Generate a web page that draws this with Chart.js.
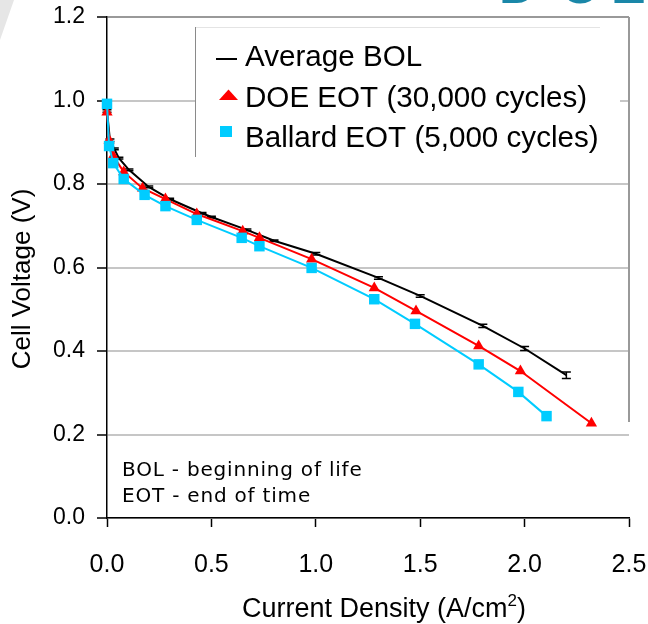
<!DOCTYPE html>
<html>
<head>
<meta charset="utf-8">
<script src="https://cdn.jsdelivr.net/npm/chart.js@4.4.1/dist/chart.umd.min.js"></script>
<style>
  html, body { margin: 0; padding: 0; background: #fff; }
  #wrap { width: 648px; height: 624px; }
</style>
</head>
<body>
<div id="wrap"><canvas id="cell-chart" width="648" height="624"></canvas></div>
<script>
// Average BOL (with error bars)
const bolX = [0, 0.014, 0.035, 0.057, 0.105, 0.2, 0.3, 0.455, 0.5, 0.67, 0.8, 1.0, 1.3, 1.5, 1.8, 2.0, 2.2];
const bolV = [0.975, 0.905, 0.884, 0.862, 0.834, 0.793, 0.764, 0.730, 0.721, 0.690, 0.664, 0.633, 0.575, 0.532, 0.460, 0.406, 0.342];
const bolErr = [0.003, 0.003, 0.002, 0.002, 0.002, 0.002, 0.002, 0.002, 0.002, 0.002, 0.002, 0.003, 0.003, 0.003, 0.004, 0.005, 0.008];

// DOE EOT (30,000 cycles)
const doeX = [0, 0.01, 0.03, 0.08, 0.17, 0.28, 0.43, 0.65, 0.73, 0.98, 1.28, 1.48, 1.78, 1.98, 2.32];
const doeV = [0.972, 0.905, 0.867, 0.829, 0.790, 0.764, 0.728, 0.687, 0.671, 0.620, 0.551, 0.496, 0.412, 0.352, 0.227];

// Ballard EOT (5,000 cycles)
const ballardX = [0, 0.01, 0.03, 0.08, 0.18, 0.28, 0.43, 0.645, 0.73, 0.98, 1.28, 1.475, 1.78, 1.97, 2.105];
const ballardV = [0.992, 0.891, 0.850, 0.812, 0.774, 0.747, 0.714, 0.671, 0.651, 0.599, 0.524, 0.465, 0.368, 0.302, 0.244];

const seriesLabels = ['Average BOL', 'DOE EOT (30,000 cycles)', 'Ballard EOT (5,000 cycles)'];
const noteLines = ['BOL - beginning of life', 'EOT - end of time'];
const xTitleParts = ['Current Density (A/cm', '2', ')'];
const yTitle = 'Cell Voltage (V)';

const ARIAL = "'Liberation Sans', Arial, sans-serif";

function toPoints(xs, ys) {
    return xs.map((x, i) => ({ x: x, y: ys[i] }));
}

// error bars for the BOL series, drawn right after that dataset
const errorBars = {
    id: 'errorBars',
    afterDatasetDraw(chart, args) {
        if (args.index !== 0) return;
        const ctx = chart.ctx;
        const y = chart.scales.y;
        ctx.save();
        ctx.strokeStyle = '#000';
        ctx.lineWidth = 1.5;
        args.meta.data.forEach((pt, i) => {
            const top = y.getPixelForValue(bolV[i] + bolErr[i]);
            const bot = y.getPixelForValue(bolV[i] - bolErr[i]);
            ctx.beginPath();
            ctx.moveTo(pt.x, top); ctx.lineTo(pt.x, bot);
            ctx.moveTo(pt.x - 4.5, top); ctx.lineTo(pt.x + 4.5, top);
            ctx.moveTo(pt.x - 4.5, bot); ctx.lineTo(pt.x + 4.5, bot);
            ctx.stroke();
        });
        ctx.restore();
    }
};

// axis titles sit a bit off the plot centre in the original
const axisTitles = {
    id: 'axisTitles',
    afterDraw(chart) {
        const ctx = chart.ctx;
        ctx.save();
        ctx.fillStyle = '#000';
        ctx.textBaseline = 'alphabetic';

        // x title with a raised 2
        const big = "27px " + ARIAL;
        const small = "17px " + ARIAL;
        ctx.font = big;
        const w0 = ctx.measureText(xTitleParts[0]).width;
        const w2 = ctx.measureText(xTitleParts[2]).width;
        ctx.font = small;
        const w1 = ctx.measureText(xTitleParts[1]).width;
        let x = 384 - (w0 + w1 + w2) / 2;
        const base = 617;
        ctx.textAlign = 'left';
        ctx.font = big;
        ctx.fillText(xTitleParts[0], x, base);
        x += w0;
        ctx.font = small;
        ctx.fillText(xTitleParts[1], x, base - 11);
        x += w1;
        ctx.font = big;
        ctx.fillText(xTitleParts[2], x, base);

        // y title
        ctx.translate(23, 279);
        ctx.rotate(-Math.PI / 2);
        ctx.font = "26px " + ARIAL;
        ctx.textAlign = 'center';
        ctx.textBaseline = 'middle';
        ctx.fillText(yTitle, 0, 0);
        ctx.restore();
    }
};

// slide leftovers, right plot border, inner legend box and the note
const decorations = {
    id: 'decorations',
    beforeDraw(chart) {
        const ctx = chart.ctx;
        ctx.save();
        ctx.fillStyle = '#e6e6e6';
        ctx.beginPath();
        ctx.moveTo(0, 0); ctx.lineTo(14, 0); ctx.lineTo(0, 40); ctx.closePath();
        ctx.fill();
        ctx.fillStyle = '#1a87a8';
        ctx.font = "bold 52px " + ARIAL;
        ctx.textBaseline = 'alphabetic';
        ctx.fillText('D', 499, 3);
        ctx.fillText('O', 560, 3);
        ctx.fillText('E', 611, 3);
        ctx.restore();
    },
    afterDraw(chart) {
        const ctx = chart.ctx;
        const area = chart.chartArea;
        const y = chart.scales.y;
        ctx.save();

        // right border, stops low on the right side
        ctx.strokeStyle = '#999';
        ctx.lineWidth = 2;
        ctx.beginPath();
        ctx.moveTo(area.right, area.top);
        ctx.lineTo(area.right, y.getPixelForValue(0.23));
        ctx.stroke();

        // legend box
        ctx.fillStyle = '#fff';
        ctx.fillRect(196, 28, 424, 130);
        ctx.lineWidth = 1;
        ctx.strokeStyle = '#e4e4e4';
        ctx.beginPath(); ctx.moveTo(195, 27.5); ctx.lineTo(600, 27.5); ctx.stroke();
        ctx.strokeStyle = '#8a8a8a';
        ctx.beginPath(); ctx.moveTo(195.5, 27); ctx.lineTo(195.5, 157); ctx.stroke();

        const ds = chart.data.datasets;
        // Average BOL marker: short dash
        ctx.strokeStyle = ds[0].borderColor;
        ctx.lineWidth = 2;
        ctx.beginPath(); ctx.moveTo(216, 59); ctx.lineTo(237, 59); ctx.stroke();
        // DOE marker: triangle
        ctx.fillStyle = ds[1].backgroundColor;
        ctx.beginPath();
        ctx.moveTo(219, 100); ctx.lineTo(238, 100); ctx.lineTo(228.5, 89.5); ctx.closePath();
        ctx.fill();
        // Ballard marker: square
        ctx.fillStyle = ds[2].backgroundColor;
        ctx.fillRect(220, 126, 12, 11);

        ctx.fillStyle = '#000';
        ctx.font = "29.6px " + ARIAL;
        ctx.textBaseline = 'alphabetic';
        ctx.fillText(ds[0].label, 245, 65.5);
        ctx.fillText(ds[1].label, 245, 106.5);
        ctx.fillText(ds[2].label, 245, 147);

        // note at lower left
        ctx.font = "20px 'DejaVu Sans', Verdana, sans-serif";
        ctx.letterSpacing = '0.8px';
        ctx.fillText(noteLines[0], 122, 476);
        ctx.fillText(noteLines[1], 122, 502);
        ctx.restore();
    }
};

const ctx = document.getElementById('cell-chart').getContext('2d');
new Chart(ctx, {
    type: 'line',
    data: {
        datasets: [
            {
                label: seriesLabels[0],
                data: toPoints(bolX, bolV),
                borderColor: '#000',
                backgroundColor: '#000',
                borderWidth: 2,
                pointRadius: 0,
                tension: 0,
                clip: false,
                order: 3
            },
            {
                label: seriesLabels[1],
                data: toPoints(doeX, doeV),
                borderColor: '#ff0000',
                backgroundColor: '#ff0000',
                borderWidth: 2,
                pointStyle: 'triangle',
                pointRadius: 6.5,
                pointBorderWidth: 0,
                tension: 0,
                clip: false,
                order: 2
            },
            {
                label: seriesLabels[2],
                data: toPoints(ballardX, ballardV),
                borderColor: '#00ccff',
                backgroundColor: '#00ccff',
                borderWidth: 2,
                pointStyle: 'rect',
                pointRadius: 7.4,
                pointBorderWidth: 0,
                tension: 0,
                clip: false,
                order: 1
            }
        ]
    },
    options: {
        responsive: false,
        animation: false,
        devicePixelRatio: 1,
        layout: {
            padding: { left: 0, top: 17, right: 19, bottom: 0 }
        },
        plugins: {
            legend: { display: false },
            tooltip: { enabled: false }
        },
        scales: {
            x: {
                type: 'linear',
                min: 0,
                max: 2.5,
                afterFit: (s) => {
                    s.height = 106;
                    s.paddingLeft = 0;
                    s.paddingRight = 0;
                },
                ticks: {
                    stepSize: 0.5,
                    color: '#000',
                    padding: 23,
                    font: { family: ARIAL, size: 25 },
                    callback: (v) => v.toFixed(1)
                },
                grid: {
                    drawOnChartArea: false,
                    drawTicks: true,
                    tickLength: 9,
                    tickColor: '#000',
                    tickWidth: 1.5
                },
                border: { color: '#000', width: 1.5 }
            },
            y: {
                min: 0,
                max: 1.2,
                afterFit: (s) => {
                    s.width = 107;
                    s.paddingTop = 0;
                    s.paddingBottom = 0;
                },
                ticks: {
                    stepSize: 0.2,
                    color: '#000',
                    padding: 12,
                    font: { family: ARIAL, size: 23 },
                    callback: (v) => v.toFixed(1)
                },
                grid: {
                    color: (c) => (c.tick && Math.abs(c.tick.value - 1.2) < 1e-6) ? '#999' : '#c6c6c6',
                    lineWidth: 2,
                    tickLength: 10,
                    tickColor: '#000',
                    tickWidth: 1.5
                },
                border: { color: '#000', width: 1.5 }
            }
        }
    },
    plugins: [errorBars, axisTitles, decorations]
});
</script>
</body>
</html>
